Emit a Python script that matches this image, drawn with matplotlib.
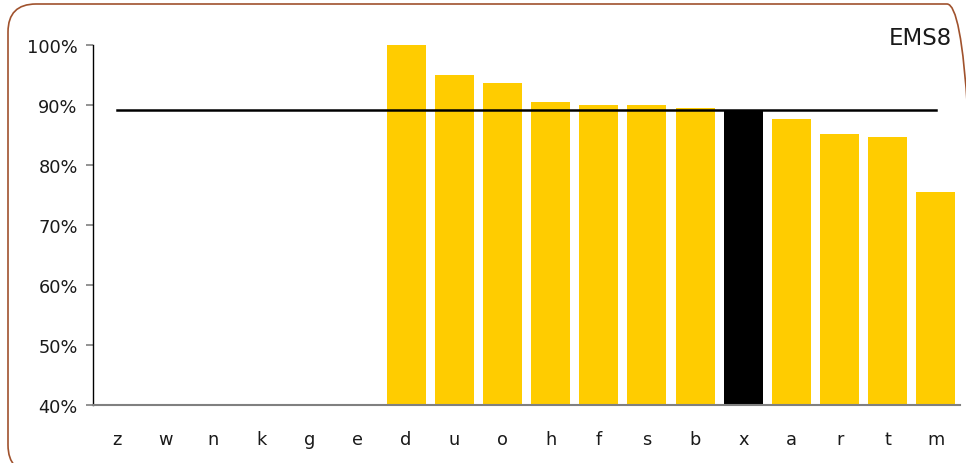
import numpy as np
import matplotlib
matplotlib.use("Agg")
import matplotlib.pyplot as plt
from matplotlib.patches import FancyBboxPatch

categories = ["z", "w", "n", "k", "g", "e", "d", "u", "o", "h", "f", "s", "b", "x", "a", "r", "t", "m"]
values = [np.nan, np.nan, np.nan, np.nan, np.nan, np.nan,
          1.000, 0.950, 0.937, 0.905, 0.900, 0.900, 0.895, 0.892, 0.877, 0.852, 0.847, 0.755]
highlight = "x"
reference_level = 0.892
title = "EMS8"
yticks = [0.4, 0.5, 0.6, 0.7, 0.8, 0.9, 1.0]
ytick_labels = ["40%", "50%", "60%", "70%", "80%", "90%", "100%"]

plt.rcParams['font.family'] = ['DejaVu Sans']
fig = plt.figure(figsize=(9.66, 4.64), dpi=100)
ax = fig.add_axes([93/966, 58/464, (960-93)/966, (406-46)/464])

x = np.arange(len(categories))
colors = ["#000000" if c == highlight else "#FFCC00" for c in categories]
vals = np.array(values, dtype=float)
mask = ~np.isnan(vals)
ax.bar(x[mask], vals[mask] - 0.4, bottom=0.4, width=0.81, color=np.array(colors)[mask], zorder=2)
ax.plot([x[0], x[-1]], [reference_level, reference_level], color="black", lw=1.8, zorder=3)

ax.set_xlim(-0.5, len(categories) - 0.5)
ax.set_ylim(0.4, 1.0)
ax.set_yticks(yticks)
ax.set_yticklabels(ytick_labels)
ax.set_xticks(x)
ax.set_xticklabels(categories)

for s in ["top", "right"]:
    ax.spines[s].set_visible(False)
ax.spines["left"].set_color("black")
ax.spines["left"].set_linewidth(1.0)
ax.spines["bottom"].set_color("#808080")
ax.spines["bottom"].set_linewidth(1.5)
ax.tick_params(axis="y", length=5, width=1.2, color="#808080", pad=6, labelsize=12.8, labelcolor="#1a1a1a")
ax.tick_params(axis="x", length=0, pad=18, labelsize=12.8, labelcolor="#1a1a1a")

fig.text(952/966, 1 - 45/464, title, ha="right", va="baseline", fontsize=16.5, color="#1a1a1a")

box = FancyBboxPatch((8, -10), 967, 459 + 10, boxstyle="round,pad=0,rounding_size=28",
                     transform=None, facecolor="none", edgecolor="#A0522D", lw=1.2, zorder=10)
fig.patches.append(box)

fig.savefig("out.png", dpi=100)
